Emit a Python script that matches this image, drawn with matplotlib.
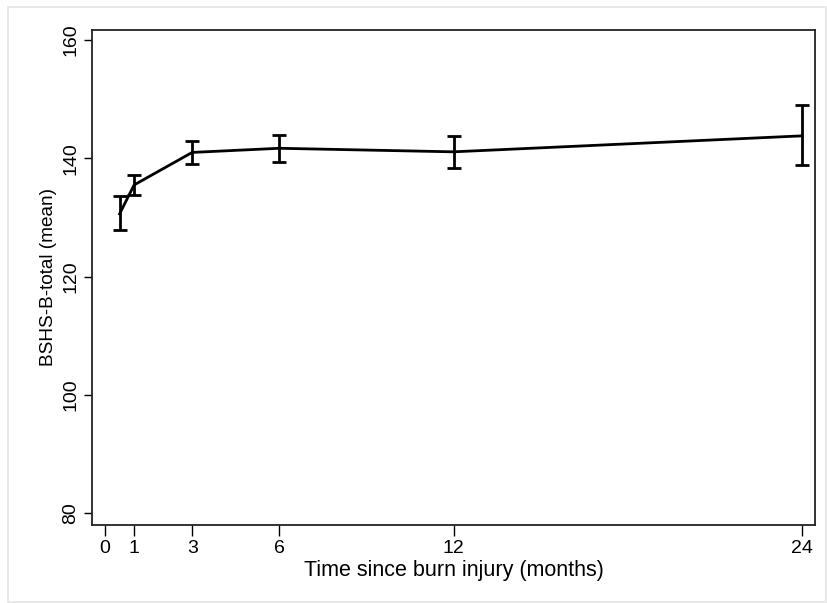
import matplotlib as mpl
mpl.use('Agg')
import matplotlib.pyplot as plt
from matplotlib.patches import Rectangle
import numpy as np

# months since injury, mean score and CI bounds
months = [0.5, 1, 3, 6, 12, 24]
mean_score = [130.6, 135.5, 141.0, 141.7, 141.1, 143.8]
ci_low = [127.8, 133.8, 139.0, 139.3, 138.3, 138.8]
ci_high = [133.6, 137.2, 143.0, 144.0, 143.8, 149.1]
xticks = [0, 1, 3, 6, 12, 24]
yticks = [80, 100, 120, 140, 160]

plt.rcParams['font.family'] = ['Liberation Sans', 'DejaVu Sans']

fig = plt.figure(figsize=(8.27, 6.03), dpi=100)
# light frame around the whole picture
fig.patches.append(Rectangle((8 / 827, 0.002), 818 / 827, 1 - 8 / 603, transform=fig.transFigure,
                             fill=False, edgecolor='#e4e4e4', linewidth=1.2))
ax = fig.add_axes([92 / 827, 1 - 525 / 603, (815 - 92) / 827, (525 - 30) / 603])

mean_score = np.array(mean_score)
yerr = [mean_score - np.array(ci_low), np.array(ci_high) - mean_score]
ax.errorbar(months, mean_score, yerr=yerr, color='black', linewidth=2,
            elinewidth=2, capsize=5, capthick=2)

ax.set_xlim(-0.45, 24.45)
ax.set_ylim(78, 161.7)
ax.set_xticks(xticks)
ax.set_yticks(yticks)
ax.set_xticklabels([str(t) for t in xticks], fontsize=14)
ax.set_yticklabels([str(t) for t in yticks], fontsize=14, rotation=90, va='center')
ax.tick_params(axis='x', length=8, width=1, pad=3)
ax.tick_params(axis='y', length=6, width=1, pad=3)
for s in ax.spines.values():
    s.set_linewidth(1.3)
    s.set_color('#222222')

ax.set_xlabel('Time since burn injury (months)', fontsize=15.5, labelpad=2)
ax.set_ylabel('BSHS-B-total (mean)', fontsize=13.7, labelpad=4)

fig.savefig('out.png', dpi=100)
